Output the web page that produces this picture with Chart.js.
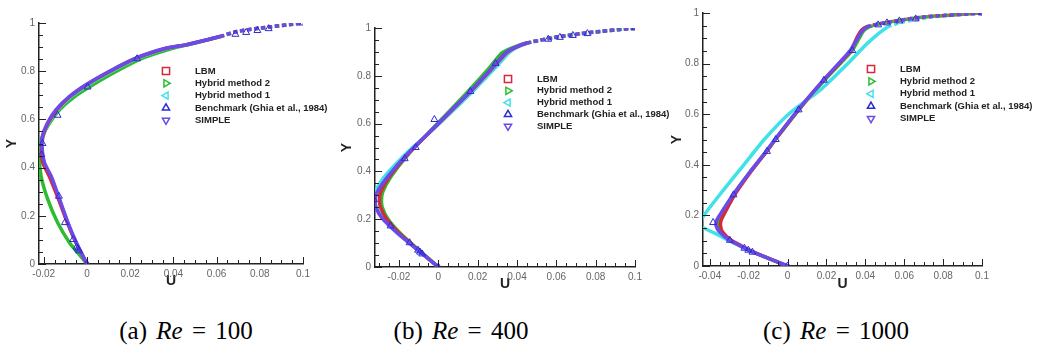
<!DOCTYPE html>
<html lang="en">
<head>
<meta charset="UTF-8">
<title>Centreline U profiles</title>
<script src="https://cdn.jsdelivr.net/npm/chart.js"></script>
<style>
  body { margin: 0; background: #fff; width: 1044px; height: 354px; position: relative; overflow: hidden; }
  canvas { position: absolute; top: 0; }
  .caption {
    position: absolute; top: 317px; transform: translateX(-50%);
    font-family: "Liberation Serif", "Times New Roman", serif; font-size: 25px;
    word-spacing: 3px; color: #000; white-space: nowrap;
  }
</style>
</head>
<body>
<canvas id="chartA" width="340" height="300" style="left:0px"></canvas>
<canvas id="chartB" width="345" height="300" style="left:335px"></canvas>
<canvas id="chartC" width="379" height="300" style="left:665px"></canvas>
<div class="caption" style="left:186px">(a) <i>Re</i> = 100</div>
<div class="caption" style="left:461px">(b) <i>Re</i> = 400</div>
<div class="caption" style="left:836px">(c) <i>Re</i> = 1000</div>

<script>
// legend / series
const seriesNames = ['LBM', 'Hybrid method 2', 'Hybrid method 1', 'Benchmark (Ghia et al., 1984)', 'SIMPLE'];
const seriesColors = ['#d42a3a', '#2cbc2c', '#3fe2e8', '#2b2bd8', '#6c4ae8'];
const seriesShapes = ['square', 'right', 'left', 'up', 'down'];

// axis ticks
const xTicksAB = [-0.02, 0, 0.02, 0.04, 0.06, 0.08, 0.1];
const xTicksC = [-0.04, -0.02, 0, 0.02, 0.04, 0.06, 0.08, 0.1];
const yTicks = [0, 0.2, 0.4, 0.6, 0.8, 1];

// benchmark rows (Ghia), shared y stations
const yBench = [1, 0.9766, 0.9688, 0.9609, 0.9531, 0.8516, 0.7344, 0.6172, 0.5, 0.4531, 0.2813, 0.1719, 0.1016, 0.0703, 0.0625, 0.0547, 0];

// ---- Re = 100 ----
const yA = [0, 0.087, 0.17, 0.267, 0.363, 0.419, 0.474, 0.53, 0.585, 0.64, 0.695, 0.744, 0.8, 0.855, 0.896, 0.91, 0.944, 0.965, 0.979, 1];
const uA_lbm = [0, -0.0050, -0.0090, -0.0131, -0.0174, -0.0204, -0.0211, -0.0204, -0.0180, -0.0140, -0.0078, -0.0001, 0.0108, 0.0232, 0.0372, 0.0462, 0.0617, 0.0695, 0.0803, 0.1];
const uA_h1 = [0, -0.0050, -0.0089, -0.0128, -0.0168, -0.0199, -0.0209, -0.0203, -0.0177, -0.0136, -0.0072, 0.0006, 0.0115, 0.0240, 0.0378, 0.0466, 0.0619, 0.0697, 0.0804, 0.1];
const uA_simple = [0, -0.0048, -0.0087, -0.0126, -0.0165, -0.0196, -0.0207, -0.0206, -0.0183, -0.0144, -0.0082, -0.0005, 0.0104, 0.0228, 0.0368, 0.0460, 0.0615, 0.0694, 0.0802, 0.1];
const yA_h2 = [0, 0.046, 0.087, 0.17, 0.267, 0.363, 0.446, 0.516, 0.585, 0.64, 0.695, 0.744, 0.8, 0.855, 0.892, 0.91, 0.944, 0.965, 0.979, 1];
const uA_h2 = [0, -0.0042, -0.0080, -0.0135, -0.0181, -0.0212, -0.0220, -0.0212, -0.0173, -0.0127, -0.0057, 0.0028, 0.0137, 0.0260, 0.0385, 0.0465, 0.0618, 0.0696, 0.0803, 0.1];
const uA_bench = [0.1, 0.0841, 0.0789, 0.0737, 0.0687, 0.0232, 0.0003, -0.0136, -0.0206, -0.0211, -0.0130, -0.0102, -0.0064, -0.0048, -0.0042, -0.0037, 0];

// ---- Re = 400 ----
const yB = [0, 0.07, 0.14, 0.203, 0.25, 0.28, 0.315, 0.377, 0.476, 0.573, 0.657, 0.741, 0.832, 0.895, 0.916, 0.937, 0.962, 0.981, 1];
const uB_lbm = [0, -0.0100, -0.0198, -0.0265, -0.0294, -0.0300, -0.0293, -0.0250, -0.0150, -0.0032, 0.0070, 0.0172, 0.0275, 0.0345, 0.0385, 0.0452, 0.0602, 0.0771, 0.1];
const uB_h2 = [0, -0.0098, -0.0192, -0.0258, -0.0285, -0.0289, -0.0282, -0.0242, -0.0148, -0.0036, 0.0062, 0.0158, 0.0258, 0.0322, 0.0372, 0.0448, 0.0600, 0.0770, 0.1];
const uB_h1 = [0, -0.0104, -0.0205, -0.0280, -0.0315, -0.0325, -0.0322, -0.0275, -0.0162, -0.0030, 0.0078, 0.0182, 0.0288, 0.0358, 0.0392, 0.0456, 0.0604, 0.0772, 0.1];
const uB_simple = [0, -0.0103, -0.0206, -0.0285, -0.0318, -0.0322, -0.0310, -0.0258, -0.0154, -0.0034, 0.0068, 0.0170, 0.0272, 0.0340, 0.0382, 0.0450, 0.0601, 0.0770, 0.1];
const uB_bench = [0.1, 0.0758, 0.0684, 0.0618, 0.0559, 0.0291, 0.0163, -0.0020, -0.0115, -0.0171, -0.0327, -0.0243, -0.0146, -0.0103, -0.0093, -0.0082, 0];

// ---- Re = 1000 ----
const yC = [0, 0.0547, 0.0703, 0.1016, 0.135, 0.16, 0.18, 0.2, 0.2813, 0.3715, 0.4531, 0.5, 0.6172, 0.7344, 0.8516, 0.9, 0.93, 0.945, 0.958, 0.971, 0.984, 1];
const uC_lbm = [0, -0.0175, -0.0215, -0.0290, -0.0335, -0.0345, -0.0342, -0.0330, -0.0272, -0.0190, -0.0108, -0.0063, 0.0056, 0.0186, 0.0325, 0.0355, 0.0378, 0.0404, 0.0473, 0.0576, 0.0696, 0.1];
const uC_h2 = [0, -0.0176, -0.0218, -0.0294, -0.0343, -0.0357, -0.0355, -0.0345, -0.0280, -0.0193, -0.0108, -0.0062, 0.0058, 0.0190, 0.0332, 0.0368, 0.0392, 0.0420, 0.0478, 0.0578, 0.0697, 0.1];
const uC_simple = [0, -0.0178, -0.0220, -0.0298, -0.0350, -0.0368, -0.0365, -0.0350, -0.0280, -0.0194, -0.0110, -0.0065, 0.0054, 0.0184, 0.0322, 0.0360, 0.0385, 0.0410, 0.0475, 0.0577, 0.0696, 0.1];
const yC_h1 = [0, 0.0547, 0.0703, 0.1016, 0.13, 0.16, 0.2, 0.3, 0.4, 0.5, 0.6, 0.7, 0.8, 0.88, 0.945, 0.965, 0.985, 1];
const uC_h1 = [0, -0.0178, -0.0222, -0.0305, -0.0375, -0.0450, -0.0430, -0.0330, -0.0225, -0.0120, 0.0005, 0.0175, 0.0310, 0.0410, 0.0515, 0.0600, 0.0750, 0.1];
const uC_bench = [0.1, 0.0659, 0.0575, 0.0511, 0.0466, 0.0333, 0.0187, 0.0057, -0.0061, -0.0106, -0.0278, -0.0383, -0.0297, -0.0222, -0.0202, -0.0181, 0];

const xMajor = 0.02, xMinor = 0.005, yMajor = 0.2, yMinor = 0.05;

function pts(u, y) { return u.map((v, i) => ({ x: v, y: y[i] })); }
function fmt(v) { return v === 0 ? '0' : String(+v.toFixed(2)); }

function markerPath(ctx, shape, cx, cy, r) {
  ctx.beginPath();
  if (shape === 'square') {
    ctx.rect(cx - r, cy - r, 2 * r, 2 * r);
    return;
  }
  const rot = { up: -90, down: 90, right: 0, left: 180 }[shape] * Math.PI / 180;
  for (let k = 0; k < 3; k++) {
    const a = rot + k * 2 * Math.PI / 3;
    const px = cx + r * 1.15 * Math.cos(a), py = cy + r * 1.15 * Math.sin(a);
    k ? ctx.lineTo(px, py) : ctx.moveTo(px, py);
  }
  ctx.closePath();
}

const axisTicks = {
  id: 'axisTicks',
  afterDraw(chart) {
    const { ctx, chartArea: a, scales: { x, y } } = chart;
    ctx.save();
    ctx.strokeStyle = '#222';
    ctx.lineWidth = 1;
    ctx.beginPath();
    const mark = (scale, step, len) => {
      const first = Math.ceil(scale.min / step - 1e-6);
      const last = Math.floor(scale.max / step + 1e-6);
      for (let i = first; i <= last; i++) {
        const p = Math.round(scale.getPixelForValue(i * step)) + 0.5;
        if (scale.isHorizontal()) { ctx.moveTo(p, a.bottom); ctx.lineTo(p, a.bottom - len); }
        else { ctx.moveTo(a.left, p); ctx.lineTo(a.left + len, p); }
      }
    };
    mark(x, xMajor, 7); mark(x, xMinor, 4);
    mark(y, yMajor, 7); mark(y, yMinor, 4);
    ctx.stroke();
    ctx.restore();
  }
};

const insideLegend = {
  id: 'insideLegend',
  afterDraw(chart, args, opts) {
    const ctx = chart.ctx;
    ctx.save();
    ctx.font = 'bold 9.5px Arial, "Liberation Sans", sans-serif';
    ctx.textBaseline = 'middle';
    seriesNames.forEach((name, i) => {
      const yy = opts.y + i * opts.gap;
      markerPath(ctx, seriesShapes[i], opts.x, yy, 3.6);
      ctx.strokeStyle = seriesColors[i];
      ctx.lineWidth = 1.5;
      ctx.stroke();
      ctx.fillStyle = '#222';
      ctx.fillText(name, opts.textX, yy);
    });
    ctx.restore();
  }
};

// near the lid the plotted symbols thin out, so the band breaks up
const topDash = { borderDash: c => (c.p0.parsed.y > 0.935 ? [4, 3] : undefined) };

function lineSet(i, data, order) {
  return {
    label: seriesNames[i], data, showLine: true,
    borderColor: seriesColors[i], borderWidth: 3.5,
    pointRadius: 0, tension: 0.2, order, segment: topDash
  };
}

function makePanel(id, s, cfg) {
  return new Chart(document.getElementById(id), {
    type: 'scatter',
    data: {
      datasets: [
        lineSet(0, s.lbm, 2),
        lineSet(1, s.h2, 4),
        lineSet(2, s.h1, 3),
        {
          label: seriesNames[3], data: s.bench, showLine: false,
          pointStyle: 'triangle', pointRadius: 4, borderWidth: 1,
          borderColor: seriesColors[3], backgroundColor: 'rgba(0,0,0,0)', order: 0
        },
        lineSet(4, s.simple, 1)
      ]
    },
    options: {
      responsive: false,
      animation: false,
      events: [],
      layout: { padding: { left: 0, top: cfg.top, right: cfg.right, bottom: 0 } },
      plugins: {
        legend: { display: false },
        tooltip: { enabled: false },
        insideLegend: cfg.legend
      },
      scales: {
        x: {
          type: 'linear', min: cfg.xMin, max: 0.1,
          afterFit: sc => { sc.height = cfg.xH; },
          afterBuildTicks: sc => { sc.ticks = cfg.xTicks.map(v => ({ value: v })); },
          grid: { display: false, drawTicks: false },
          border: { display: true, color: '#222', width: 1.5 },
          ticks: { padding: 4, color: '#666', font: { family: 'Arial', size: 10 }, maxRotation: 0, callback: fmt },
          title: { display: true, text: 'U', color: '#222', font: { family: 'Arial', size: 14, weight: 'bold' }, padding: { top: 0, bottom: cfg.uPad } }
        },
        y: {
          type: 'linear', min: 0, max: 1,
          afterFit: sc => { sc.width = cfg.yW; },
          afterBuildTicks: sc => { sc.ticks = yTicks.map(v => ({ value: v })); },
          grid: { display: false, drawTicks: false },
          border: { display: true, color: '#222', width: 1.5 },
          ticks: { padding: 4, color: '#666', font: { family: 'Arial', size: 10 }, callback: fmt },
          title: { display: true, text: 'Y', color: '#222', font: { family: 'Arial', size: 14, weight: 'bold' }, padding: { top: 4, bottom: 0 } }
        }
      }
    },
    plugins: [axisTicks, insideLegend]
  });
}

makePanel('chartA', {
  lbm: pts(uA_lbm, yA), h2: pts(uA_h2, yA_h2), h1: pts(uA_h1, yA),
  bench: pts(uA_bench, yBench), simple: pts(uA_simple, yA)
}, { xMin: -0.0222, xTicks: xTicksAB, top: 23, right: 37, xH: 36, yW: 39, uPad: 10,
     legend: { x: 166, textX: 195, y: 71, gap: 12.3 } });

makePanel('chartB', {
  lbm: pts(uB_lbm, yB), h2: pts(uB_h2, yB), h1: pts(uB_h1, yB),
  bench: pts(uB_bench, yBench), simple: pts(uB_simple, yB)
}, { xMin: -0.0322, xTicks: xTicksAB, top: 28, right: 45, xH: 33, yW: 40, uPad: 7,
     legend: { x: 173, textX: 202, y: 79, gap: 11.8 } });

makePanel('chartC', {
  lbm: pts(uC_lbm, yC), h2: pts(uC_h2, yC), h1: pts(uC_h1, yC_h1),
  bench: pts(uC_bench, yBench), simple: pts(uC_simple, yC)
}, { xMin: -0.0435, xTicks: xTicksC, top: 13, right: 62, xH: 34, yW: 38, uPad: 7,
     legend: { x: 206, textX: 235, y: 69, gap: 12.4 } });
</script>
</body>
</html>
